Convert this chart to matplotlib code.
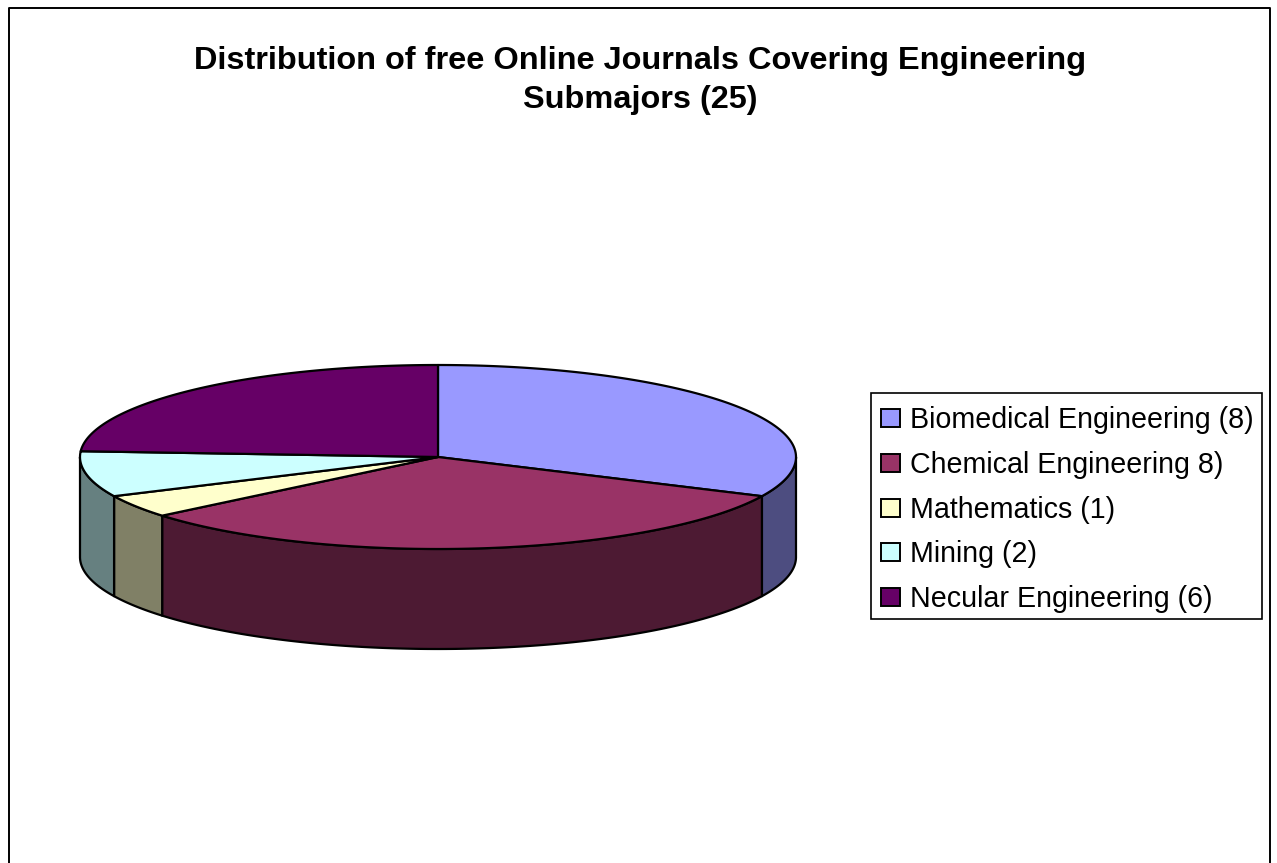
import numpy as np
import matplotlib
matplotlib.use("Agg")
from matplotlib import pyplot as plt
from matplotlib.patches import Polygon, Rectangle

plt.rcParams['font.family'] = ['Liberation Sans', 'DejaVu Sans']

title = "Distribution of free Online Journals Covering Engineering\nSubmajors (25)"
labels = ["Biomedical Engineering (8)", "Chemical Engineering 8)", "Mathematics (1)",
          "Mining (2)", "Necular Engineering (6)"]
values = [8, 8, 1, 2, 6]
top_colors = ["#9999FF", "#993366", "#FFFFCC", "#CCFFFF", "#660066"]
side_colors = ["#4D4D80", "#4D1A33", "#808066", "#668080", "#330033"]

# pie geometry in image pixels
cx, cy = 438, 457
rx, ry = 358, 92
depth = 100


def rim(a0, a1, drop=0):
    # a is clockwise from 12 o'clock, in degrees
    a = np.radians(np.linspace(a0, a1, max(int(abs(a1 - a0)) * 2, 2)))
    return np.column_stack([cx + rx * np.sin(a), cy - ry * np.cos(a) + drop])


fig = plt.figure(figsize=(12.77, 8.63), dpi=100)
ax = fig.add_axes([0, 0, 1, 1])
ax.set_xlim(0, 1277)
ax.set_ylim(863, 0)
ax.axis('off')

# chart frame, the bottom edge is cut off in the picture
ax.plot([9, 9, 1270, 1270], [863, 8, 8, 863], color='black', lw=1.4)

ax.text(640, 80.5, title, ha='center', va='center', fontsize=23.4, fontweight='bold',
        linespacing=1.38)

edges = np.cumsum([0] + values) / sum(values) * 360

# side walls, only the front half of the pie shows
for i in range(len(values)):
    a0, a1 = max(edges[i], 90), min(edges[i + 1], 270)
    if a1 <= a0:
        continue
    front = rim(a0, a1)
    lower = rim(a0, a1, depth)[::-1]
    ax.add_patch(Polygon(np.vstack([front, lower]), closed=True, facecolor=side_colors[i],
                         edgecolor='black', lw=1.6, joinstyle='round'))

# top slices
for i in range(len(values)):
    pts = np.vstack([[cx, cy], rim(edges[i], edges[i + 1])])
    ax.add_patch(Polygon(pts, closed=True, facecolor=top_colors[i], edgecolor='black',
                         lw=1.6, joinstyle='round'))

# legend
ax.add_patch(Rectangle((871, 393), 391, 226, facecolor='white', edgecolor='black', lw=1.2))
legend_y = [418, 463, 508, 552, 597]
for name, col, y in zip(labels, top_colors, legend_y):
    ax.add_patch(Rectangle((881, y - 9), 19, 18, facecolor=col, edgecolor='black', lw=1.4))
    ax.text(910, y + 2, name, ha='left', va='center', fontsize=20.6)

fig.savefig("out.png", dpi=100)
